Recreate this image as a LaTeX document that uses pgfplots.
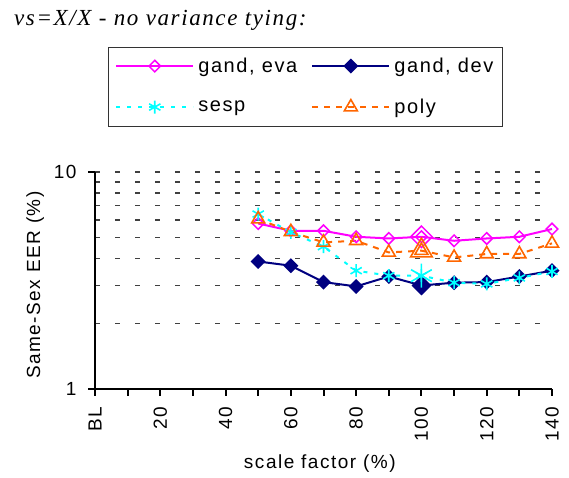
\documentclass[border=0pt]{standalone}
\usepackage{fontspec}
\setmainfont{Liberation Sans}[LetterSpace=8]
\newfontfamily\titlefont{Liberation Serif}[LetterSpace=7]
\usepackage{pgfplots}
\pgfplotsset{compat=1.18}
\definecolor{cMag}{RGB}{255,0,255}
\definecolor{cNavy}{RGB}{0,0,128}
\definecolor{cCyan}{RGB}{0,255,255}
\definecolor{cOrange}{RGB}{255,102,0}

\begin{document}
\begin{tikzpicture}[x=1pt,y=1pt]
\path[use as bounding box] (0,0) rectangle (569,477);
\node[anchor=base west, font=\titlefont\itshape\fontsize{23}{26}\selectfont, inner sep=0pt] at (14,451) {vs=X/X - no variance tying:};
\begin{axis}[
    at={(95pt,88pt)}, anchor=south west,
    scale only axis, width=457pt, height=217pt,
    font=\fontsize{19}{22}\selectfont,
    /pgf/number format/assume math mode=true,
    ymode=log, ymin=1, ymax=10,
    xmin=0, xmax=14,
    axis lines=left,
    axis line style={-, line width=2.2pt},
    ytick={1,10}, yticklabels={1,10},
    minor ytick={2,3,4,5,6,7,8,9},
    xtick={0,...,14},
    xticklabels={BL,,20,,40,,60,,80,,100,,120,,140},
    xticklabel style={rotate=90, anchor=east},
    xticklabel shift=7pt,
    yticklabel shift=8pt,
    tick align=outside,
    major tick length=7pt, minor tick length=0pt,
    tick style={line width=2pt, black},
    ymajorgrids, yminorgrids,
    grid style={dash pattern=on 5pt off 15pt, line width=1.3pt, black!75},
    xlabel={scale factor (\%)},
    ylabel={Same-Sex EER (\%)},
    xlabel style={at={(axis description cs:0.492,-0.345)}, anchor=center},
    ylabel style={at={(axis description cs:-0.131,0.479)}, anchor=center, rotate=0},
    clip=false,
    legend columns=2,
    legend cell align=left,
    legend style={at={(axis description cs:0.028,1.578)}, anchor=north west,
        draw=black!80, line width=1pt, inner xsep=7pt, inner ysep=9pt,
        row sep=21pt, font=\fontsize{20}{22}\selectfont,
        /tikz/every even column/.append style={column sep=12pt},
        /tikz/every odd column/.append style={column sep=2pt}},
    legend image code/.code={\draw[mark repeat=2, mark phase=2] plot coordinates {(0pt,0pt) (38.5pt,0pt) (77pt,0pt)};},
]
\addplot[cMag, line width=2pt, mark=square, mark size=4.1pt,
    mark options={solid, rotate=45, fill=white, line width=1.5pt}] coordinates {
(5,5.79) (6,5.36) (7,5.36) (8,5.03) (9,4.94) (10,5.03) (11,4.82) (12,4.94) (13,5.03) (14,5.46)
};
\addlegendentry{gand, eva}
\addplot[cMag, only marks, forget plot, mark=square, mark size=7.6pt,
    mark options={solid, rotate=45, fill=white, line width=1.5pt}] coordinates {(10,5.03)};

\addplot[cNavy, line width=2pt, mark=square*, mark size=4.3pt,
    mark options={solid, rotate=45, fill=cNavy}] coordinates {
(5,3.87) (6,3.70) (7,3.11) (8,2.97) (9,3.30) (10,3.00) (11,3.09) (12,3.11) (13,3.30) (14,3.51)
};
\addlegendentry{gand, dev}
\addplot[cNavy, only marks, forget plot, mark=square*, mark size=6.8pt,
    mark options={solid, rotate=45, fill=cNavy}] coordinates {(10,3.00)};

\addplot[cCyan, line width=2pt, dash pattern=on 4pt off 7pt, mark=asterisk, mark size=6.5pt,
    mark options={solid, line width=1.6pt}] coordinates {
(5,6.40) (6,5.27) (7,4.53) (8,3.51) (9,3.33) (10,3.33) (11,3.09) (12,3.05) (13,3.25) (14,3.48)
};
\addlegendentry{sesp}
\addplot[cCyan, only marks, forget plot, mark=asterisk, mark size=12pt,
    mark options={solid, line width=1.6pt}] coordinates {(10,3.33)};

\addplot[cOrange, line width=2pt, dash pattern=on 6pt off 6pt, mark=triangle, mark size=7.5pt,
    mark options={solid, fill=white, line width=1.6pt}] coordinates {
(5,6.07) (6,5.30) (7,4.74) (8,4.82) (9,4.26) (10,4.34) (11,4.04) (12,4.19) (13,4.19) (14,4.69)
};
\addlegendentry{poly}
\addplot[cOrange, only marks, forget plot, mark=triangle, mark size=12.5pt,
    mark options={solid, fill=white, line width=1.6pt}] coordinates {(10,4.34)};
\end{axis}
\end{tikzpicture}
\end{document}
